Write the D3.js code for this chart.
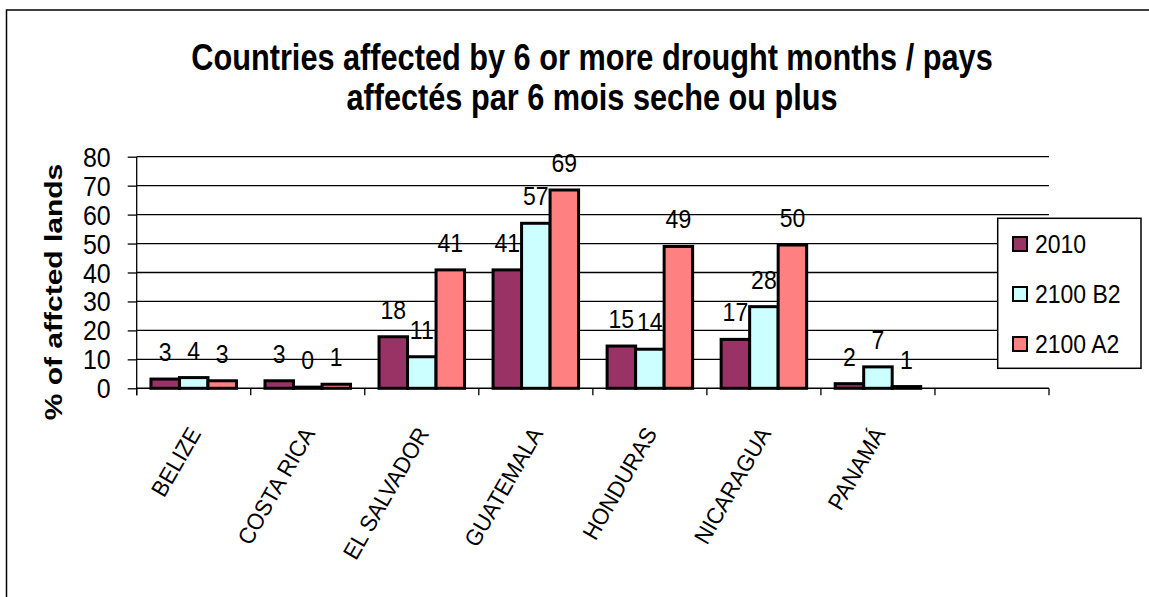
<!DOCTYPE html>
<html>
<head>
<meta charset="utf-8">
<script src="https://cdn.jsdelivr.net/npm/d3@7"></script>
<style>
  html, body { margin: 0; padding: 0; background: #fff; }
  svg { display: block; font-family: "Liberation Sans", Arial, sans-serif; }
</style>
</head>
<body>
<svg id="chart"></svg>
<script>
// Data
const categories = ['BELIZE', 'COSTA RICA', 'EL SALVADOR', 'GUATEMALA', 'HONDURAS', 'NICARAGUA', 'PANAMÁ'];
const seriesNames = ['2010', '2100 B2', '2100 A2'];
const values2010 = [3.2, 2.6, 17.8, 40.9, 14.6, 16.9, 1.6];
const valuesB2 = [3.7, 0.4, 10.9, 57.0, 13.5, 28.2, 7.4];
const valuesA2 = [2.6, 1.4, 40.9, 68.5, 49.0, 49.5, 0.6];
const yTicks = [0, 10, 20, 30, 40, 50, 60, 70, 80];
const seriesColors = ['#993366', '#CCFFFF', '#FF8080'];

const width = 1149;
const height = 597;
const stretch = 1.13; // text in the picture is slightly taller than wide

const plot = { left: 136.7, right: 1049, top: 156.7, bottom: 388.3 };

// Excel leaves one empty slot after the last country
const slots = categories.concat(['']);
const seriesValues = [values2010, valuesB2, valuesA2];

const svg = d3.select('#chart')
    .attr('width', width)
    .attr('height', height);

// chart frame, open on the right and bottom
svg.append('rect')
    .attr('x', 6.5).attr('y', 10)
    .attr('width', 1300).attr('height', 800)
    .attr('fill', 'none')
    .attr('stroke', '#000')
    .attr('stroke-width', 1.5);

const x = d3.scaleBand()
    .domain(slots)
    .range([plot.left, plot.right]);

const bw = x.bandwidth();
const x1 = d3.scaleBand()
    .domain(seriesNames)
    .range([bw / 8, bw - bw / 8]);

const y = d3.scaleLinear()
    .domain([0, 80])
    .range([plot.bottom, plot.top]);

// Title
const titleStretch = 1.22;
const title = svg.append('text')
    .attr('text-anchor', 'middle')
    .attr('font-weight', 'bold')
    .attr('font-size', 31)
    .attr('fill', '#000')
    .attr('transform', `translate(592,0) scale(0.99,${titleStretch})`);
title.append('tspan').attr('x', 0).attr('y', 57 / titleStretch).attr('dy', '0.35em')
    .text('Countries affected by 6 or more drought months / pays');
title.append('tspan').attr('x', 0).attr('y', 97 / titleStretch).attr('dy', '0.35em')
    .text('affectés par 6 mois seche ou plus');

// Gridlines
svg.append('g')
    .selectAll('line')
    .data(yTicks.filter(d => d > 0))
    .enter()
    .append('line')
    .attr('x1', plot.left).attr('x2', plot.right)
    .attr('y1', d => y(d)).attr('y2', d => y(d))
    .attr('stroke', '#000')
    .attr('stroke-width', 1.3);

// Y axis
const yAxis = svg.append('g')
    .attr('transform', `translate(${plot.left},0)`)
    .call(d3.axisLeft(y).tickValues(yTicks).tickSize(9).tickPadding(17).tickFormat(d3.format('d')));
yAxis.select('.domain').attr('stroke', '#000').attr('stroke-width', 1.3)
    .attr('d', `M0,${plot.top}V${plot.bottom + 7}`);
yAxis.selectAll('.tick line').attr('stroke', '#000').attr('stroke-width', 1.3);
yAxis.selectAll('.tick text')
    .attr('font-size', 25)
    .attr('font-family', '"Liberation Sans", Arial, sans-serif')
    .attr('fill', '#000')
    .attr('dy', null)
    .attr('transform', `translate(-26,0) scale(1,${stretch})`)
    .attr('x', 0)
    .attr('dominant-baseline', 'central');

// Y axis title
svg.append('text')
    .attr('transform', `translate(62,292) rotate(-90) scale(1.25,1)`)
    .attr('text-anchor', 'middle')
    .attr('font-weight', 'bold')
    .attr('font-size', 24)
    .attr('fill', '#000')
    .text('% of affcted lands');

// X axis line with ticks between categories
const xAxis = svg.append('g');
xAxis.append('line')
    .attr('x1', plot.left).attr('x2', plot.right)
    .attr('y1', plot.bottom).attr('y2', plot.bottom)
    .attr('stroke', '#000').attr('stroke-width', 1.5);
xAxis.selectAll('.xtick')
    .data(slots.concat(['end']))
    .enter()
    .append('line')
    .attr('class', 'xtick')
    .attr('x1', d => d === 'end' ? plot.right : x(d))
    .attr('x2', d => d === 'end' ? plot.right : x(d))
    .attr('y1', plot.bottom).attr('y2', plot.bottom + 7)
    .attr('stroke', '#000').attr('stroke-width', 1.3);

// Category labels, rotated
svg.append('g')
    .selectAll('text')
    .data(categories)
    .enter()
    .append('text')
    .attr('transform', d => `translate(${x(d) + bw / 2 + 8},${plot.bottom + 45}) rotate(-60) scale(1.04,1.1)`)
    .attr('text-anchor', 'end')
    .attr('font-size', 21)
    .attr('fill', '#000')
    .text(d => d);

// Bars
const groups = svg.append('g')
    .selectAll('g')
    .data(categories)
    .enter()
    .append('g')
    .attr('transform', d => `translate(${x(d)},0)`);

const barData = (d, i) => seriesNames.map((s, j) => ({ series: s, value: seriesValues[j][i], color: seriesColors[j] }));

groups.selectAll('rect')
    .data(barData)
    .enter()
    .append('rect')
    .attr('x', d => x1(d.series))
    .attr('width', x1.bandwidth())
    .attr('y', d => y(d.value))
    .attr('height', d => y(0) - y(d.value))
    .attr('fill', d => d.color)
    .attr('stroke', '#000')
    .attr('stroke-width', 3);

// Value labels
groups.selectAll('.vlabel')
    .data(barData)
    .enter()
    .append('text')
    .attr('class', 'vlabel')
    .attr('text-anchor', 'middle')
    .attr('font-size', 23)
    .attr('fill', '#000')
    .attr('dominant-baseline', 'central')
    .attr('transform', d => `translate(${x1(d.series) + x1.bandwidth() / 2},${y(d.value) - 27}) scale(1,${stretch})`)
    .text(d => d3.format('.0f')(d.value));

// Legend
const legend = svg.append('g');
legend.append('rect')
    .attr('x', 997.7).attr('y', 218.3)
    .attr('width', 143.3).attr('height', 150)
    .attr('fill', '#fff')
    .attr('stroke', '#000')
    .attr('stroke-width', 1.5);

const legendItems = legend.selectAll('.legend-item')
    .data(seriesNames)
    .enter()
    .append('g')
    .attr('class', 'legend-item')
    .attr('transform', (d, i) => `translate(1013,${244 + i * 50})`);

legendItems.append('rect')
    .attr('x', 0).attr('y', -7)
    .attr('width', 14).attr('height', 14)
    .attr('fill', (d, i) => seriesColors[i])
    .attr('stroke', '#000')
    .attr('stroke-width', 2);

legendItems.append('text')
    .attr('transform', `translate(22,0) scale(1,${stretch})`)
    .attr('dominant-baseline', 'central')
    .attr('font-size', 23)
    .attr('fill', '#000')
    .text(d => d);
</script>
</body>
</html>
